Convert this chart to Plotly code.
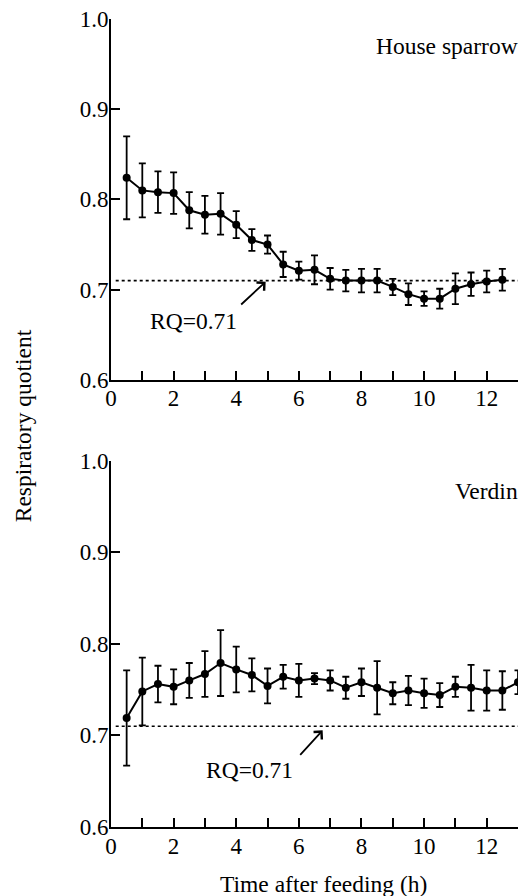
import plotly.graph_objects as go

# ---- data ----
hours_sparrow = [0.5, 1.0, 1.5, 2.0, 2.5, 3.0, 3.5, 4.0, 4.5, 5.0, 5.5, 6.0, 6.5,
                 7.0, 7.5, 8.0, 8.5, 9.0, 9.5, 10.0, 10.5, 11.0, 11.5, 12.0, 12.5]
rq_sparrow = [0.824, 0.810, 0.808, 0.807, 0.788, 0.783, 0.784, 0.772, 0.755, 0.750,
              0.728, 0.721, 0.722, 0.712, 0.710, 0.710, 0.710, 0.703, 0.695, 0.690,
              0.690, 0.701, 0.706, 0.709, 0.711]
err_sparrow = [0.046, 0.030, 0.023, 0.023, 0.020, 0.021, 0.023, 0.015, 0.012, 0.010,
               0.014, 0.010, 0.016, 0.012, 0.012, 0.013, 0.013, 0.009, 0.012, 0.008,
               0.011, 0.017, 0.013, 0.012, 0.012]

hours_verdin = [0.5, 1.0, 1.5, 2.0, 2.5, 3.0, 3.5, 4.0, 4.5, 5.0, 5.5, 6.0, 6.5,
                7.0, 7.5, 8.0, 8.5, 9.0, 9.5, 10.0, 10.5, 11.0, 11.5, 12.0, 12.5, 13.0]
rq_verdin = [0.719, 0.748, 0.756, 0.753, 0.760, 0.767, 0.779, 0.772, 0.766, 0.754,
             0.764, 0.760, 0.762, 0.760, 0.752, 0.758, 0.752, 0.746, 0.749, 0.746,
             0.744, 0.753, 0.752, 0.749, 0.749, 0.758]
err_verdin = [0.052, 0.037, 0.020, 0.019, 0.019, 0.025, 0.036, 0.025, 0.018, 0.019,
              0.013, 0.018, 0.006, 0.011, 0.012, 0.015, 0.029, 0.012, 0.016, 0.016,
              0.013, 0.011, 0.025, 0.022, 0.021, 0.013]

rq_fat = 0.71
ref_line_x = [0.15, 13.0]

x_tickvals = list(range(0, 14))
x_ticktext = ["0", "", "2", "", "4", "", "6", "", "8", "", "10", "", "12", ""]
y_tickvals = [0.6, 0.7, 0.8, 0.9, 1.0]
y_ticktext = ["0.6", "0.7", "0.8", "0.9", "1.0"]

panel_names = ["House sparrow", "Verdin"]

FONT = "Liberation Serif, Times New Roman, serif"

fig = go.Figure()


def add_panel(xs, ys, errs, xa, ya):
    fig.add_trace(go.Scatter(
        x=ref_line_x, y=[rq_fat, rq_fat], mode="lines",
        line=dict(color="black", width=1.6, dash="dot"),
        xaxis=xa, yaxis=ya, hoverinfo="skip", showlegend=False))
    fig.add_trace(go.Scatter(
        x=xs, y=ys, mode="lines+markers",
        line=dict(color="black", width=2),
        marker=dict(color="black", size=8, symbol="circle"),
        error_y=dict(type="data", array=errs, visible=True,
                     color="black", thickness=1.8, width=3.5),
        xaxis=xa, yaxis=ya, cliponaxis=False, showlegend=False))


add_panel(hours_sparrow, rq_sparrow, err_sparrow, "x", "y")
add_panel(hours_verdin, rq_verdin, err_verdin, "x2", "y2")

axis_common = dict(showline=True, linecolor="black", linewidth=2,
                   ticks="inside", ticklen=9, tickwidth=2, tickcolor="black",
                   showgrid=False, zeroline=False, ticklabeloverflow="allow",
                   tickfont=dict(family=FONT, size=23, color="black"))

xaxis_style = dict(axis_common, range=[0, 13], tickvals=x_tickvals,
                   ticktext=x_ticktext, ticklabelstandoff=-3)
yaxis_style = dict(axis_common, range=[0.6, 1.0], tickvals=y_tickvals,
                   ticktext=y_ticktext, ticklabelstandoff=-4)

# the page body adds an 8px offset; the figure is sized to fill the rest
fig.update_layout(
    width=518, height=888,
    margin=dict(l=103.4, r=8.3, t=11, b=68.7, autoexpand=False),
    paper_bgcolor="white", plot_bgcolor="white",
    font=dict(family=FONT, size=23, color="black"),
    xaxis=dict(xaxis_style, anchor="y"),
    yaxis=dict(yaxis_style, domain=[0.5534, 1.0], anchor="x"),
    xaxis2=dict(xaxis_style, anchor="y2"),
    yaxis2=dict(yaxis_style, domain=[0.0, 0.4535], anchor="x2"),
)

anns = []
# panel labels
anns.append(dict(x=1.0057, y=0.9705, xref="paper", yref="y", text=panel_names[0],
                 showarrow=False, xanchor="right", yanchor="middle",
                 font=dict(size=23.5)))
anns.append(dict(x=1.0057, y=0.967, xref="paper", yref="y2", text=panel_names[1],
                 showarrow=False, xanchor="right", yanchor="middle",
                 font=dict(size=23.5)))
# RQ labels
anns.append(dict(x=2.62, y=0.6657, xref="x", yref="y", text="RQ=0.71",
                 showarrow=False, xanchor="center", yanchor="middle",
                 font=dict(size=23.5)))
anns.append(dict(x=4.43, y=0.6626, xref="x2", yref="y2", text="RQ=0.71",
                 showarrow=False, xanchor="center", yanchor="middle",
                 font=dict(size=23.5)))
# arrows
anns.append(dict(x=4.94, y=0.7088, ax=4.11, ay=0.682, xref="x", yref="y",
                 axref="x", ayref="y", text="", showarrow=True,
                 arrowhead=4, arrowsize=1.2, arrowwidth=1.8, arrowcolor="black"))
anns.append(dict(x=6.76, y=0.7055, ax=6.0, ay=0.677, xref="x2", yref="y2",
                 axref="x2", ayref="y2", text="", showarrow=True,
                 arrowhead=4, arrowsize=1.2, arrowwidth=1.8, arrowcolor="black"))
# axis titles
anns.append(dict(x=-0.2176, y=0.4965, xref="paper", yref="paper",
                 text="Respiratory quotient", textangle=-90, showarrow=False,
                 xanchor="center", yanchor="middle", font=dict(size=23.5)))
anns.append(dict(x=0.5233, y=-0.0701, xref="paper", yref="paper",
                 text="Time after feeding (h)", showarrow=False,
                 xanchor="center", yanchor="middle", font=dict(size=23.5)))

fig.update_layout(annotations=anns)

fig.write_html("out.html")
